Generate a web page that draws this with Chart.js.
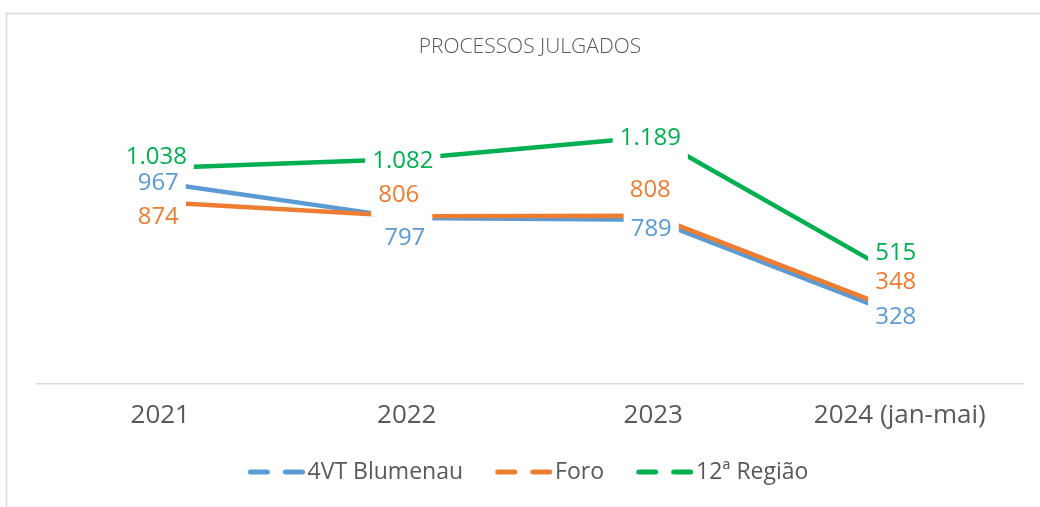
<!DOCTYPE html>
<html>
<head>
<meta charset="utf-8">
<script src="https://cdn.jsdelivr.net/npm/chart.js@4.4.1/dist/chart.umd.min.js"></script>
<style>
  html, body { margin: 0; padding: 0; background: #ffffff; }
  #wrap { width: 1040px; height: 507px; position: relative; }
</style>
</head>
<body>
<div id="wrap"><canvas id="c" width="1040" height="507"></canvas></div>
<script>
const categories = ['2021', '2022', '2023', '2024 (jan-mai)'];
const seriesNames = ['4VT Blumenau', 'Foro', '12ª Região'];
const blumenau = [967, 797, 789, 328];
const foro = [874, 806, 808, 348];
const regiao = [1038, 1082, 1189, 515];

const COLORS = ['#5B9BD5', '#ED7D31', '#00B050'];
const TEXT = '#595959';

// label offsets relative to each point (style, not data)
const LABEL_OFFSETS = [
  [[-2, -1], [-2, 18.5], [-2, 8], [-4, 0]],        // blue
  [[-2, 13.5], [-8, -22.5], [-3, -27], [-4, -31]], // orange
  [[-4, -13], [-4, 0], [-3, 0], [-4, -25]]         // green
];

function fmt(v) {
  return String(v).replace(/\B(?=(\d{3})+(?!\d))/g, '.');
}

// legend icon: two rounded dashes placed at the right end of a wider transparent canvas
const ICON_W = 85;
function makeDash(color) {
  const c = document.createElement('canvas');
  c.width = ICON_W; c.height = 8;
  const g = c.getContext('2d');
  const s = ICON_W - 57;
  g.strokeStyle = color; g.lineWidth = 5; g.lineCap = 'round';
  g.beginPath();
  g.moveTo(s + 2.5, 4); g.lineTo(s + 19.5, 4);
  g.moveTo(s + 37.5, 4); g.lineTo(s + 54.5, 4);
  g.stroke();
  return c;
}
const dashIcons = COLORS.map(makeDash);

const framePlugin = {
  id: 'frame',
  beforeDraw(chart) {
    const ctx = chart.ctx;
    ctx.save();
    ctx.fillStyle = '#ffffff';
    ctx.fillRect(0, 0, chart.width, chart.height);
    ctx.strokeStyle = '#d9d9d9';
    ctx.lineWidth = 1.5;
    ctx.strokeRect(6.5, 13.5, chart.width + 20, chart.height + 20);
    ctx.restore();
  }
};

const labelPlugin = {
  id: 'valueLabels',
  afterDatasetsDraw(chart) {
    const ctx = chart.ctx;
    const size = 24;
    ctx.save();
    ctx.font = '400 ' + size + 'px "Open Sans"';
    const items = [];
    chart.data.datasets.forEach((ds, di) => {
      const meta = chart.getDatasetMeta(di);
      meta.data.forEach((pt, i) => {
        const txt = fmt(ds.data[i]);
        const off = LABEL_OFFSETS[di][i];
        const w = ctx.measureText(txt).width;
        items.push({ txt, w, cx: pt.x + off[0], cy: pt.y + off[1], color: COLORS[di] });
      });
    });
    ctx.fillStyle = '#ffffff';
    items.forEach(it => {
      ctx.fillRect(it.cx - it.w / 2 - 7, it.cy - 23, it.w + 14, 46);
    });
    ctx.textAlign = 'center';
    ctx.textBaseline = 'alphabetic';
    items.forEach(it => {
      ctx.fillStyle = it.color;
      ctx.fillText(it.txt, it.cx, it.cy + size * 0.714 / 2);
    });
    ctx.restore();
  }
};

const seriesData = [blumenau, foro, regiao];

new Chart(document.getElementById('c'), {
  type: 'line',
  data: {
    labels: categories,
    datasets: seriesData.map((d, i) => ({
      label: seriesNames[i],
      data: d,
      borderColor: COLORS[i],
      backgroundColor: COLORS[i],
      borderWidth: 4.5,
      borderCapStyle: 'round',
      borderJoinStyle: 'round',
      pointRadius: 0,
      pointHoverRadius: 0,
      tension: 0,
      fill: false,
      order: 2 - i
    }))
  },
  options: {
    responsive: false,
    animation: false,
    devicePixelRatio: 1,
    layout: { padding: { left: 37, right: 17, top: 10, bottom: 13.5 } },
    scales: {
      x: {
        offset: true,
        grid: { display: false, drawTicks: false },
        border: { display: true, color: '#d9d9d9', width: 1.5 },
        ticks: {
          color: TEXT,
          padding: 16.4,
          font: { family: '"Open Sans"', size: 26, lineHeight: 1.2 },
          maxRotation: 0
        }
      },
      y: {
        display: false,
        min: 0,
        max: 1400
      }
    },
    plugins: {
      title: {
        display: true,
        text: 'PROCESSOS JULGADOS',
        color: TEXT,
        font: { family: '"Open Sans"', size: 21, weight: 300, lineHeight: 1.2 },
        padding: { top: 24.4, bottom: 33.4 }
      },
      legend: {
        position: 'bottom',
        labels: {
          usePointStyle: true,
          pointStyleWidth: 67.5,
          padding: 13,
          color: TEXT,
          font: { family: '"Open Sans"', size: 23 },
          generateLabels(chart) {
            const n = chart.data.datasets.length;
            return chart.data.datasets.map((ds, i) => ({
              // trailing em space on the last item balances the centring of the row
              text: i === n - 1 ? ds.label + '\u2003' : ds.label,
              pointStyle: dashIcons[i],
              fillStyle: 'transparent',
              strokeStyle: 'transparent',
              lineWidth: 0,
              fontColor: TEXT,
              hidden: false,
              datasetIndex: i
            }));
          }
        }
      },
      tooltip: { enabled: false }
    }
  },
  plugins: [framePlugin, labelPlugin]
});
</script>
</body>
</html>
